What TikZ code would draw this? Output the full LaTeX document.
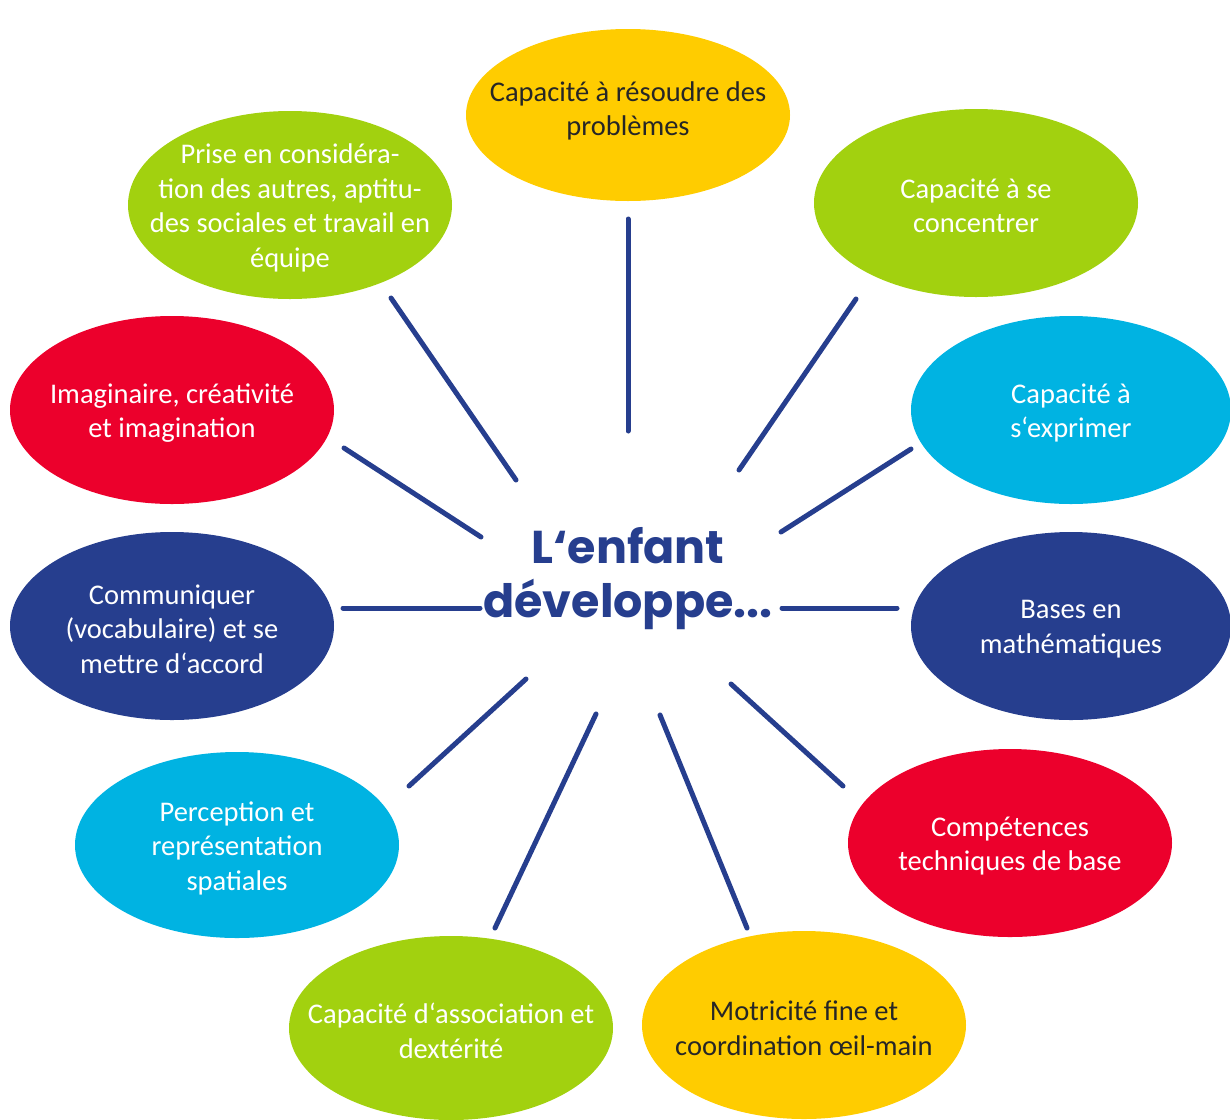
\documentclass[tikz,border=0pt]{standalone}
\usepackage{fontspec}
\setmainfont{Carlito}
\newfontfamily\titlefont{Poppins}
\usetikzlibrary{shapes.geometric,positioning}
\definecolor{jaune}{HTML}{FFCC00}
\definecolor{vert}{HTML}{A2D10F}
\definecolor{cyan}{HTML}{00B3E2}
\definecolor{marine}{HTML}{263E8E}
\definecolor{rouge}{HTML}{EC002C}
\tikzset{
    %Define style for bubbles
    bulle/.style={
           ellipse,
           draw=none,
           inner sep=0pt,
           minimum width=324pt,
           minimum height=188pt},
    etiq/.style={
           align=center,
           yshift=-3pt,
           font=\fontsize{28.5}{34.5}\selectfont,
           text=white},
    txt/.style={label={[etiq]center:{#1}}},
    bjaune/.style={bulle, fill=jaune},
    bvert/.style={bulle, fill=vert},
    bcyan/.style={bulle, fill=cyan},
    bmarine/.style={bulle, fill=marine},
    brouge/.style={bulle, fill=rouge},
    % Define spoke style
    rayon/.style={
           draw=marine,
           line width=5pt,
           line cap=round}
}
\begin{document}
\begin{tikzpicture}[x=1pt,y=-1pt]
\useasboundingbox (0,0) rectangle (1230,1119);
 %nodes
\node[bjaune, minimum height=172pt, label={[etiq, text=black!85, yshift=7pt]center:{Capacité à résoudre des\\problèmes}}](probl) at (628,115){};
\node[bvert, txt={Capacité à se\\concentrer}](concentr) at (976,203){};
\node[bcyan, minimum width=320pt, txt={Capacité à\\s‘exprimer}](exprim) at (1071,410){};
\node[bmarine, minimum width=320pt, txt={Bases en\\mathématiques}](math) at (1071,626){};
\node[brouge, txt={Compétences\\techniques de base}](techn) at (1010,843){};
\node[bjaune, label={[etiq, text=black!85]center:{Motricité fine et\\coordination œil-main}}](motric) at (804,1025){};
\node[bvert, minimum height=184pt, txt={Capacité d‘association et\\dextérité}](assoc) at (451,1028){};
\node[bcyan, minimum height=186pt, txt={Perception et\\représentation\\spatiales}](percep) at (237,845){};
\node[bmarine, txt={Communiquer\\(vocabulaire) et se\\mettre d‘accord}](commun) at (172,626){};
\node[brouge, txt={Imaginaire, créativité\\et imagination}](imagin) at (172,410){};
\node[bvert, txt={Prise en considéra-\\tion des autres, aptitu-\\des sociales et travail en\\équipe}](social) at (290,205){};
\node[align=center, text=marine, font=\titlefont\bfseries\fontsize{46}{54}\selectfont](enfant) at (628,579){L‘enfant\\développe...};
 %spokes
\coordinate (p1) at (628,219); \coordinate (q1) at (628,431);
\coordinate (p2) at (856,299); \coordinate (q2) at (739,470);
\coordinate (p3) at (911,449); \coordinate (q3) at (781,532);
\coordinate (p4) at (897,608); \coordinate (q4) at (782,608);
\coordinate (p5) at (843,786); \coordinate (q5) at (731,684);
\coordinate (p6) at (747,928); \coordinate (q6) at (660,715);
\coordinate (p7) at (495,928); \coordinate (q7) at (596,714);
\coordinate (p8) at (409,786); \coordinate (q8) at (526,679);
\coordinate (p9) at (343,608); \coordinate (q9) at (480,608);
\coordinate (p10) at (344,448); \coordinate (q10) at (481,537);
\coordinate (p11) at (391,298); \coordinate (q11) at (516,480);
\foreach \i in {1,...,11}
    \draw[rayon] (p\i) -- (q\i);
\end{tikzpicture}
\end{document}
